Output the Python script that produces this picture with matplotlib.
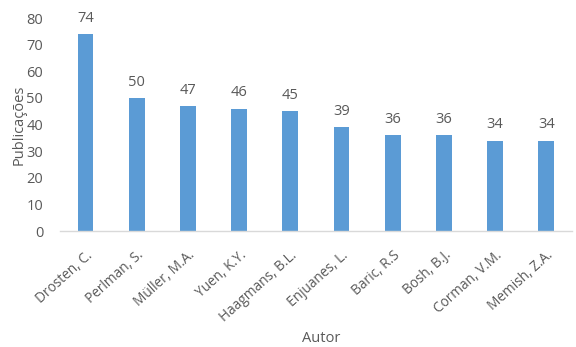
import matplotlib
matplotlib.use("Agg")
import matplotlib.pyplot as plt

autores = ["Drosten, C.", "Perlman, S.", "Müller, M.A.", "Yuen, K.Y.", "Haagmans, B.L.",
           "Enjuanes, L.", "Baric, R.S", "Bosh, B.J.", "Corman, V.M.", "Memish, Z.A."]
publicacoes = [74, 50, 47, 46, 45, 39, 36, 36, 34, 34]
yticks = [0, 10, 20, 30, 40, 50, 60, 70, 80]

plt.rcParams['font.family'] = ['Open Sans', 'DejaVu Sans']
gray = '#595959'
blue = '#5B9BD5'

fig = plt.figure(figsize=(5.76, 3.47), dpi=100)
ax = fig.add_axes([0.104, 0.334, 0.889, 0.614])
x = range(len(autores))
bars = ax.bar(x, publicacoes, width=0.31, color=blue, zorder=2)
for xi, v in zip(x, publicacoes):
    ax.annotate(str(v), (xi, v), xytext=(0, 6), textcoords='offset points',
                ha='center', va='bottom', fontsize=10.5, color=gray)

ax.set_xlim(-0.5, len(autores) - 0.5)
ax.set_ylim(0, 80)
ax.set_yticks(yticks)
ax.set_yticklabels([str(t) for t in yticks], fontsize=10.5, color=gray)
ax.set_xticks(list(x))
ax.set_xticklabels(autores, rotation=42, ha='right', va='top', rotation_mode='anchor',
                   fontsize=9.8, color=gray)
ax.tick_params(axis='x', length=0, pad=12)
ax.tick_params(axis='y', length=0, pad=12)
for s in ['top', 'right', 'left']:
    ax.spines[s].set_visible(False)
ax.spines['bottom'].set_color('#D9D9D9')
ax.spines['bottom'].set_linewidth(1)

ax.set_ylabel('Publicações', fontsize=10.5, color=gray, labelpad=0)
fig.text(0.557, 0.025, 'Autor', ha='center', va='center', fontsize=10.5, color=gray)

fig.savefig('out.png', dpi=100)
